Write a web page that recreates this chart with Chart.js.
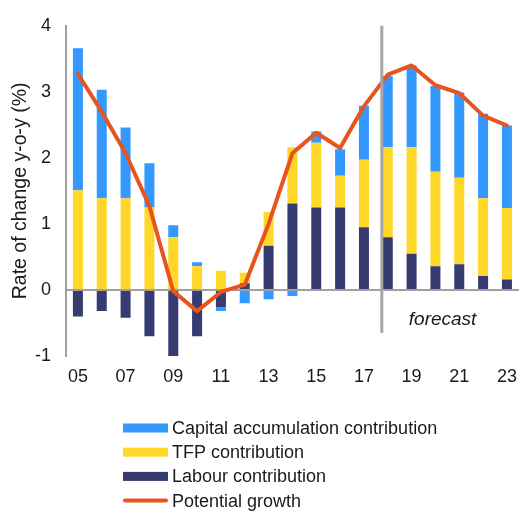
<!DOCTYPE html>
<html>
<head>
<meta charset="utf-8">
<script src="https://cdn.jsdelivr.net/npm/chart.js@4.4.1/dist/chart.umd.min.js"></script>
<style>
  html, body { margin: 0; padding: 0; background: #ffffff; }
  #wrap { width: 527px; height: 512px; position: relative; }
</style>
</head>
<body>
<div id="wrap"><canvas id="c" width="527" height="512"></canvas></div>
<script>
const years = ['05','06','07','08','09','10','11','12','13','14','15','16','17','18','19','20','21','22','23'];
const labour = [-0.40,-0.32,-0.42,-0.70,-1.01,-0.70,-0.26,0.10,0.67,1.31,1.25,1.25,0.95,0.80,0.55,0.36,0.39,0.21,0.16];
const tfp = [1.51,1.39,1.39,1.25,0.80,0.36,0.29,0.16,0.51,0.85,0.98,0.48,1.02,1.36,1.61,1.43,1.31,1.18,1.08];
const capital = [2.15,1.64,1.07,0.67,0.18,0.06,-0.06,-0.20,-0.14,-0.09,0.17,0.40,0.82,1.08,1.24,1.30,1.29,1.28,1.25];
const potential = [3.27,2.70,2.07,1.27,-0.02,-0.32,-0.03,0.08,1.00,2.07,2.38,2.15,2.78,3.26,3.40,3.10,2.98,2.64,2.49];
const yTicks = [-1,0,1,2,3,4];
const forecastLabel = 'forecast';
const forecastStartIndex = 12.75;

const FAMILY = "'Liberation Sans', Arial, Helvetica, sans-serif";
Chart.defaults.font.family = FAMILY;
Chart.defaults.font.size = 18;
Chart.defaults.color = '#1a1a1a';

const COLORS = {
  capital: '#3399FF',
  tfp: '#FFD728',
  labour: '#363B72',
  line: '#E8541C',
  axis: '#A0A0A0',
  forecast: '#A6A6A6'
};

const forecastPlugin = {
  id: 'forecast',
  afterDatasetsDraw(chart) {
    const ctx = chart.ctx;
    const xs = chart.scales.x, ys = chart.scales.y;
    const x = xs.getPixelForValue(forecastStartIndex);
    ctx.save();
    ctx.strokeStyle = COLORS.forecast;
    ctx.lineWidth = 3;
    ctx.beginPath();
    ctx.moveTo(x, ys.getPixelForValue(4));
    ctx.lineTo(x, ys.getPixelForValue(-0.65));
    ctx.stroke();
    ctx.fillStyle = '#1a1a1a';
    ctx.font = "italic 19px " + FAMILY;
    ctx.textAlign = 'center';
    ctx.textBaseline = 'middle';
    ctx.fillText(forecastLabel, xs.getPixelForValue(15.3), ys.getPixelForValue(-0.45));
    ctx.restore();
  }
};

const legendPlugin = {
  id: 'vlegend',
  afterDraw(chart) {
    const ctx = chart.ctx;
    const order = [2, 1, 0, 3];
    const x0 = 123, boxW = 45, boxH = 9, y0 = 428, step = 24.2;
    ctx.save();
    ctx.font = "18px " + FAMILY;
    ctx.textBaseline = 'middle';
    ctx.textAlign = 'left';
    order.forEach((di, i) => {
      const ds = chart.data.datasets[di];
      const y = y0 + i * step;
      if (ds.type === 'line') {
        ctx.strokeStyle = ds.borderColor;
        ctx.lineWidth = 4;
        ctx.lineCap = 'round';
        ctx.beginPath();
        ctx.moveTo(x0 + 2, y);
        ctx.lineTo(x0 + boxW - 2, y);
        ctx.stroke();
      } else {
        ctx.fillStyle = ds.backgroundColor;
        ctx.fillRect(x0, y - boxH / 2, boxW, boxH);
      }
      ctx.fillStyle = '#1a1a1a';
      ctx.fillText(ds.label, x0 + boxW + 4, y + 1);
    });
    ctx.restore();
  }
};

new Chart(document.getElementById('c'), {
  data: {
    labels: years,
    datasets: [
      { type: 'bar', label: 'Labour contribution', data: labour, backgroundColor: COLORS.labour, stack: 's', order: 2 },
      { type: 'bar', label: 'TFP contribution', data: tfp, backgroundColor: COLORS.tfp, stack: 's', order: 2 },
      { type: 'bar', label: 'Capital accumulation contribution', data: capital, backgroundColor: COLORS.capital, stack: 's', order: 2 },
      { type: 'line', label: 'Potential growth', data: potential, borderColor: COLORS.line, backgroundColor: COLORS.line,
        borderWidth: 4, pointRadius: 0, tension: 0, order: 0, borderJoinStyle: 'round', borderCapStyle: 'round' }
    ]
  },
  options: {
    responsive: false,
    animation: false,
    layout: { padding: { top: 20, right: 2, left: 0, bottom: 116 } },
    datasets: { bar: { barPercentage: 0.42, categoryPercentage: 1.0 } },
    plugins: { legend: { display: false }, tooltip: { enabled: false } },
    scales: {
      x: {
        stacked: true,
        grid: { display: false, drawTicks: false },
        border: { display: false },
        ticks: {
          autoSkip: false, maxRotation: 0, padding: 10,
          callback: (v, i) => (i % 2 === 0 ? years[i] : '')
        },
        afterFit: (s) => { s.height = 40; }
      },
      y: {
        stacked: true,
        min: -1, max: 4,
        afterBuildTicks: (s) => { s.ticks = yTicks.map(v => ({ value: v })); },
        grid: {
          drawTicks: false,
          lineWidth: 2,
          color: (c) => (c.tick && c.tick.value === 0 ? COLORS.axis : 'rgba(0,0,0,0)')
        },
        border: { display: true, color: COLORS.axis, width: 2 },
        ticks: { padding: 15 },
        title: { display: true, text: 'Rate of change y-o-y (%)', font: { size: 19.5 }, padding: { top: 9, bottom: 0 } },
        afterFit: (s) => { s.width = 66; }
      }
    }
  },
  plugins: [forecastPlugin, legendPlugin]
});
</script>
</body>
</html>
